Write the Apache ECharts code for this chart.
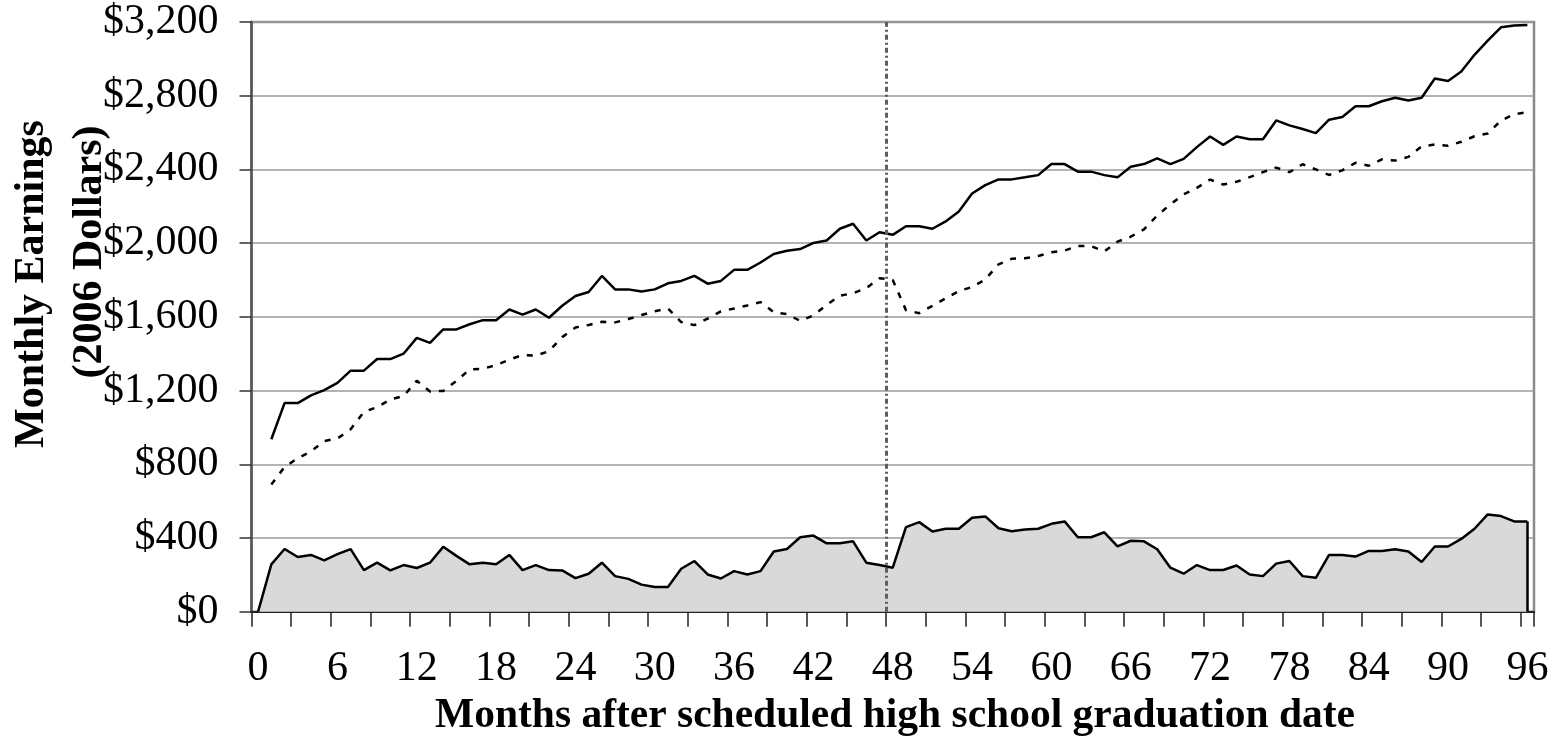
<!DOCTYPE html>
<html>
<head>
<meta charset="utf-8">
<script src="https://cdn.jsdelivr.net/npm/echarts@6/dist/echarts.min.js"></script>
<style>
html,body{margin:0;padding:0;background:#fff;}
#chart{width:1552px;height:739px;}
</style>
</head>
<body>
<div id="chart"></div>
<script>
// Months after scheduled graduation (categories)
const months = [];
for (let i = 0; i <= 96; i++) months.push(String(i));

// Upper solid line (month 0 has no value)
const solidVals = [null,
 936,1132,1132,1174,1202,1242,1308,1308,1371,1371,
 1400,1486,1459,1532,1532,1560,1582,1582,1640,1612,
 1640,1595,1660,1713,1735,1822,1749,1749,1737,1749,
 1782,1795,1822,1780,1795,1855,1855,1895,1941,1959,
 1968,2001,2014,2078,2105,2014,2059,2045,2092,2092,
 2078,2118,2172,2269,2315,2346,2346,2357,2369,2429,
 2429,2388,2388,2369,2357,2415,2429,2460,2429,2457,
 2521,2579,2533,2579,2564,2564,2666,2639,2619,2597,
 2670,2685,2743,2743,2770,2789,2774,2789,2893,2880,
 2931,3022,3099,3171,3181,3184];

// Middle dotted line
const dottedVals = [null,
 690,785,833,870,926,940,990,1084,1110,1152,
 1170,1253,1195,1198,1252,1315,1318,1338,1368,1393,
 1390,1414,1490,1542,1556,1573,1570,1588,1610,1630,
 1645,1572,1555,1590,1630,1645,1662,1680,1625,1615,
 1578,1608,1665,1715,1728,1756,1810,1800,1636,1620,
 1660,1700,1740,1762,1803,1885,1915,1918,1930,1950,
 1960,1985,1984,1955,2008,2035,2075,2150,2210,2265,
 2300,2345,2318,2333,2358,2385,2410,2385,2428,2400,
 2370,2395,2436,2420,2455,2448,2468,2525,2535,2528,
 2550,2580,2595,2665,2700,2710];

// Grey area (gap between the two lines)
const gapVals = [0,
 257,340,297,308,279,312,340,226,266,224,
 253,237,266,352,303,257,266,257,308,226,
 253,226,224,182,206,266,193,178,147,134,
 134,233,275,202,180,220,202,220,327,340,
 404,413,371,371,382,266,253,239,459,486,
 435,450,450,510,517,453,437,446,450,477,
 490,404,404,431,354,385,382,339,239,206,
 253,226,226,251,202,193,261,275,193,184,
 308,308,299,330,330,339,327,270,354,354,
 395,450,528,519,490,490];

// Vertical reference (boundary before month 48)
const refMonth = 47.5;

const yTitle1 = 'Monthly Earnings';
const yTitle2 = '(2006 Dollars)';
const xTitle = 'Months after scheduled high school graduation date';

const SERIF = "'Liberation Serif','Times New Roman',serif";

const chart = echarts.init(document.getElementById('chart'), null, {renderer: 'canvas'});
chart.setOption({
  animation: false,
  backgroundColor: '#ffffff',
  grid: {
    left: 251.5, top: 22, right: 18, bottom: 127.3,
    show: true, borderColor: '#8a8a8a', borderWidth: 2.5, backgroundColor: 'transparent'
  },
  xAxis: [{
    type: 'category',
    data: months,
    boundaryGap: true,
    axisLine: {show: true, onZero: false, lineStyle: {color: '#222', width: 2}},
    axisTick: {show: true, interval: 2, length: 15, lineStyle: {color: '#222', width: 1.5}},
    axisLabel: {
      interval: 5, margin: 36, color: '#000',
      fontFamily: SERIF, fontSize: 42
    },
    splitLine: {show: false}
  }, {
    type: 'value',
    min: -0.5, max: 96.5,
    show: false
  }],
  yAxis: {
    type: 'value',
    min: 0, max: 3200, interval: 400,
    axisLine: {show: true, onZero: false, lineStyle: {color: '#555', width: 2.5}},
    axisTick: {show: true, length: 12, lineStyle: {color: '#333', width: 1.5}},
    axisLabel: {
      margin: 33, color: '#000', fontFamily: SERIF, fontSize: 42,
      padding: [8, 0, 0, 0],
      formatter: v => '$' + v.toLocaleString('en-US')
    },
    splitLine: {show: true, lineStyle: {color: '#9a9a9a', width: 1.5}}
  },
  series: [{
    type: 'line',
    data: gapVals,
    symbol: 'none',
    lineStyle: {color: '#000', width: 2.5},
    areaStyle: {color: '#d9d9d9', opacity: 1},
    z: 2
  }, {
    type: 'line',
    data: solidVals,
    symbol: 'none',
    lineStyle: {color: '#000', width: 2.5},
    z: 3
  }, {
    type: 'line',
    data: dottedVals,
    symbol: 'none',
    lineStyle: {color: '#000', width: 2.5, type: [6, 8]},
    z: 3
  }, {
    type: 'line',
    xAxisIndex: 1,
    data: [],
    symbol: 'none',
    z: 4,
    markLine: {
      silent: true,
      symbol: ['none', 'none'],
      label: {show: false},
      animation: false,
      data: [
        {xAxis: refMonth, lineStyle: {color: '#5e5e5e', width: 3, type: [5, 3, 2, 3]}},
        [{coord: [96, 0], lineStyle: {color: '#000', width: 2.5, type: 'solid'}},
         {coord: [96, gapVals[96]]}]
      ]
    }
  }],
  graphic: [{
    type: 'text',
    x: 32, y: 284,
    rotation: Math.PI / 2,
    style: {
      text: yTitle1, fill: '#000',
      font: "bold 42px 'Liberation Serif','Times New Roman',serif",
      align: 'center', verticalAlign: 'middle'
    }
  }, {
    type: 'text',
    x: 90, y: 252,
    rotation: Math.PI / 2,
    style: {
      text: yTitle2, fill: '#000',
      font: "bold 42px 'Liberation Serif','Times New Roman',serif",
      align: 'center', verticalAlign: 'middle'
    }
  }, {
    type: 'text',
    x: 895, y: 716,
    style: {
      text: xTitle, fill: '#000',
      font: "bold 41.5px 'Liberation Serif','Times New Roman',serif",
      align: 'center', verticalAlign: 'middle'
    }
  }]
});
</script>
</body>
</html>
